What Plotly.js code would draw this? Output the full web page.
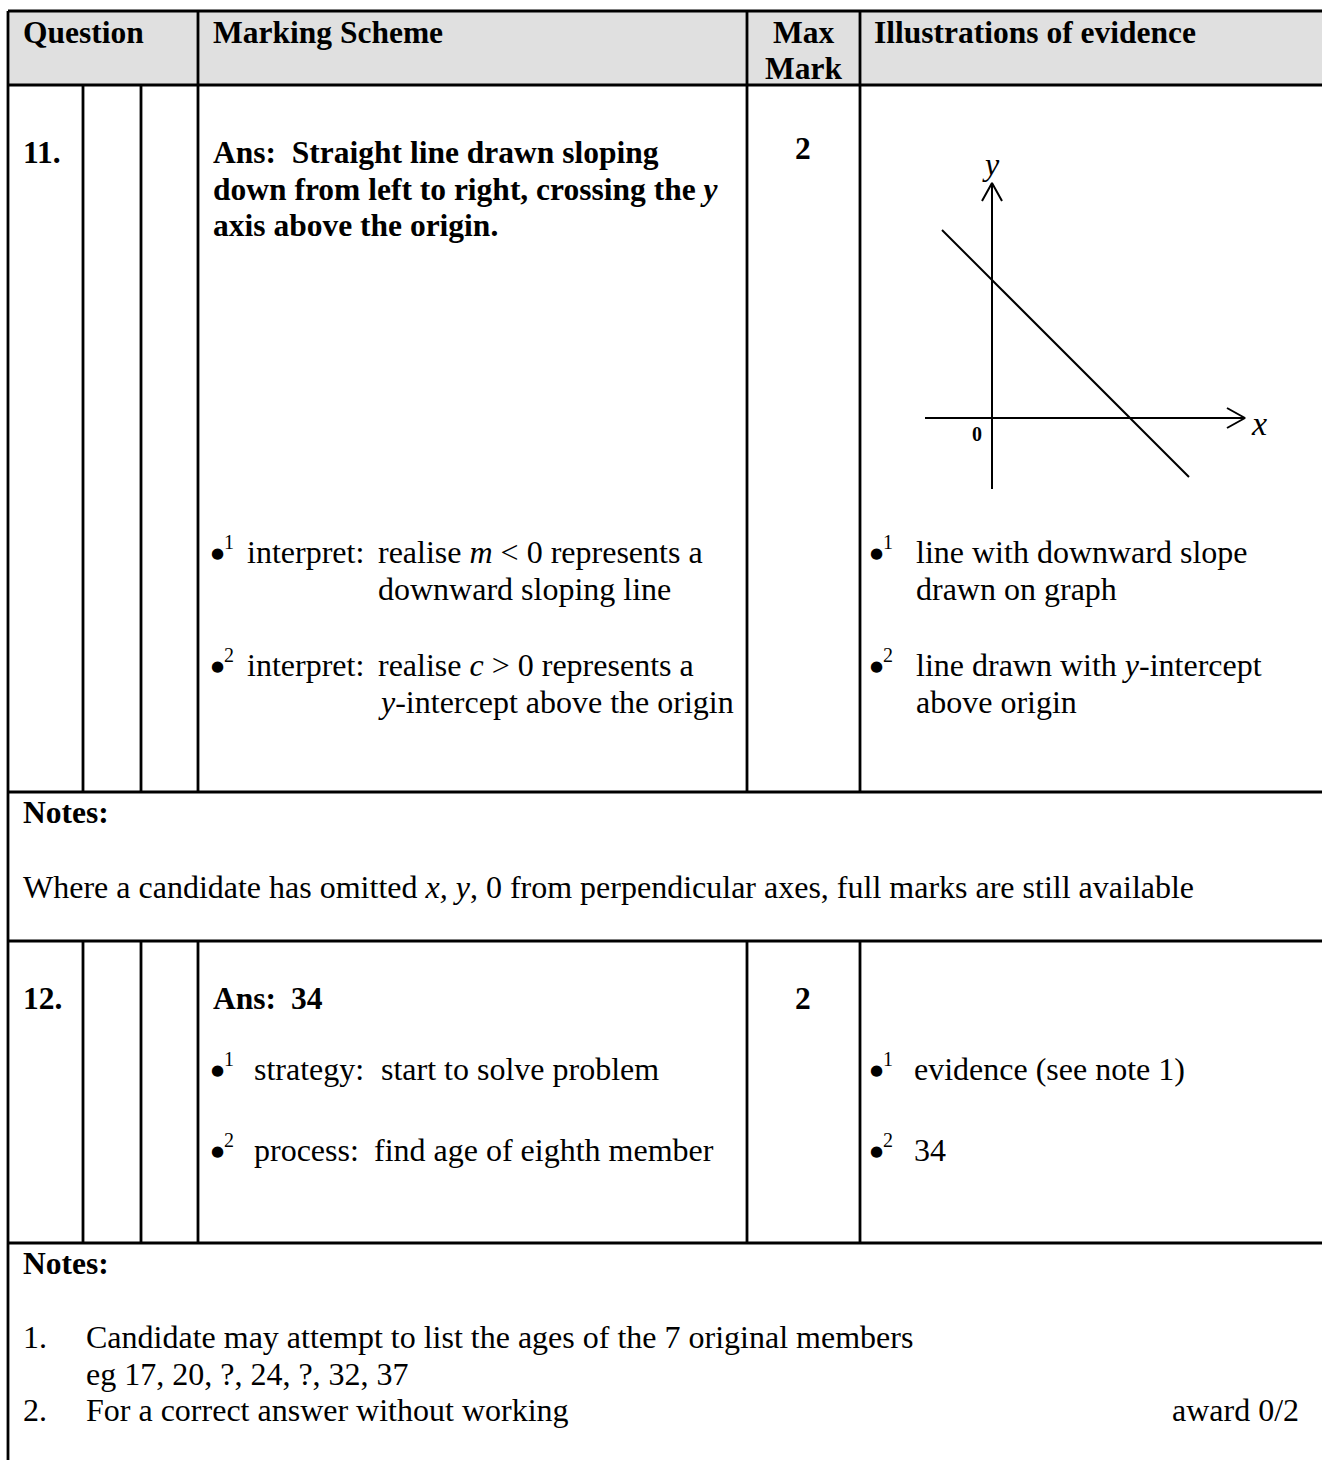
<!DOCTYPE html>
<html>
<head>
<meta charset="utf-8">
<script src="https://cdn.plot.ly/plotly-3.0.1.min.js"></script>
<style>
  html, body { margin: 0; padding: 0; background: #ffffff; }
  #chart { width: 1322px; height: 1460px; }
</style>
</head>
<body>
<div id="chart"></div>
<script>
// ---------------- DATA ----------------
const headerLabels = ["Question", "Marking Scheme", "Max", "Mark", "Illustrations of evidence"];
const questionNumbers = ["11.", "12."];
const maxMarks = ["2", "2"];
const q11Answer = ["Ans:  Straight line drawn sloping", "down from left to right, crossing the <i>y</i>", "axis above the origin."];
const q11Steps = ["interpret:", "interpret:"];
const q11Scheme = [["realise <i>m</i> &lt; 0 represents a", "downward sloping line"],
                   ["realise <i>c</i> &gt; 0 represents a", "<i>y</i>-intercept above the origin"]];
const q11Evidence = [["line with downward slope", "drawn on graph"],
                     ["line drawn with <i>y</i>-intercept", "above origin"]];
const q11Note = "Where a candidate has omitted <i>x, y</i>, 0 from perpendicular axes, full marks are still available";
const q12Answer = ["Ans:", "34"];
const q12Steps = ["strategy:", "process:"];
const q12Scheme = ["start to solve problem", "find age of eighth member"];
const q12Evidence = ["evidence (see note 1)", "34"];
const q12Notes = [["1.", "Candidate may attempt to list the ages of the 7 original members"],
                  ["", "eg 17, 20, ?, 24, ?, 32, 37"],
                  ["2.", "For a correct answer without working"]];
const q12Award = "award 0/2";
const notesLabel = "Notes:";
const bulletMarks = ["1", "2"];

// sketch graph: straight line y = c - x with c > 0
const graphLineX = [-1.0, 3.94];
const graphLineY = [3.76, -1.18];
const yAxisSpan = [-1.42, 4.70];
const xAxisSpan = [-1.34, 5.06];
const axisLabels = ["x", "y", "0"];

// ---------------- LAYOUT HELPERS ----------------
const W = 1322, H = 1460;
const PX = x => x / W;
const PY = y => 1 - y / H;
const FONT = "Liberation Serif, Times New Roman, Times, serif";
const FS = 32, FSB = 31.5;

const shapes = [];
const LW = 2.8;
function hline(y, x0, x1) {
  shapes.push({type: "line", xref: "paper", yref: "paper", x0: PX(x0), x1: PX(x1), y0: PY(y), y1: PY(y),
               line: {color: "#000", width: LW}});
}
function vline(x, y0, y1) {
  shapes.push({type: "line", xref: "paper", yref: "paper", x0: PX(x), x1: PX(x), y0: PY(y0), y1: PY(y1),
               line: {color: "#000", width: LW}});
}
// header fill
shapes.push({type: "rect", xref: "paper", yref: "paper", x0: PX(8), x1: PX(1322), y0: PY(85), y1: PY(11),
             fillcolor: "#e0e0e0", line: {width: 0}, layer: "below"});
[11, 85, 792, 941, 1243].forEach(y => hline(y, 8, 1322));
vline(8, 11, 1460);
[[11, 792], [941, 1243]].forEach(s => [198, 747, 860].forEach(x => vline(x, s[0], s[1])));
[[85, 792], [941, 1243]].forEach(s => [83, 141].forEach(x => vline(x, s[0], s[1])));

const annotations = [];
function T(x, y, text, anchor, size, family) {
  annotations.push({xref: "paper", yref: "paper", x: PX(x), y: PY(y), text: text, showarrow: false,
                    xanchor: anchor || "left", yanchor: "middle", borderpad: 0,
                    font: {family: family || FONT, size: size || FS, color: "#000"}});
}
const TB = (x, y, s, anchor) => T(x, y, "<b>" + s + "</b>", anchor, FSB);
function bulletMark(x, y, n) {
  T(x - 1, y + 1, "●", "left", 15, "DejaVu Sans");
  T(x + 12, y - 10, n, "left", 20);
}

// header
TB(22, 32, headerLabels[0]);
TB(212, 32, headerLabels[1]);
TB(803, 32, headerLabels[2], "center");
TB(803, 68, headerLabels[3], "center");
TB(873, 32, headerLabels[4]);

// question 11
TB(22, 152, questionNumbers[0]);
q11Answer.forEach((s, i) => TB(212, 152 + 37 * i, s));
TB(803, 148, maxMarks[0], "center");
[552, 665].forEach((y, i) => {
  bulletMark(211, y, bulletMarks[i]);
  T(246, y, q11Steps[i]);
  T(377, y, q11Scheme[i][0]);
  T(377, y + 37, q11Scheme[i][1]);
  bulletMark(870, y, bulletMarks[i]);
  T(915, y, q11Evidence[i][0]);
  T(915, y + 37, q11Evidence[i][1]);
});
TB(22, 813, notesLabel);
T(22, 887, q11Note);

// question 12
TB(22, 998, questionNumbers[1]);
TB(212, 998, q12Answer[0]);
TB(290, 998, q12Answer[1]);
TB(803, 998, maxMarks[1], "center");
[1069, 1150].forEach((y, i) => {
  bulletMark(211, y, bulletMarks[i]);
  T(253, y, q12Steps[i]);
  T(i === 0 ? 380 : 373, y, q12Scheme[i]);
  bulletMark(870, y, bulletMarks[i]);
  T(913, y, q12Evidence[i]);
});
TB(22, 1263, notesLabel);
q12Notes.forEach((r, i) => {
  const y = 1337 + 36.5 * i;
  if (r[0]) T(22, y, r[0]);
  T(85, y, r[1]);
});
T(1300, 1410, q12Award, "right");

// graph labels (data coordinates of the sketch axes)
annotations.push({xref: "x", yref: "y", x: 5.34, y: -0.1, text: "<i>" + axisLabels[0] + "</i>", showarrow: false,
                  font: {family: FONT, size: 34, color: "#000"}});
annotations.push({xref: "x", yref: "y", x: -0.02, y: 5.08, text: "<i>" + axisLabels[1] + "</i>", showarrow: false,
                  font: {family: FONT, size: 32, color: "#000"}});
annotations.push({xref: "x", yref: "y", x: -0.3, y: -0.31, text: "<b>" + axisLabels[2] + "</b>", showarrow: false,
                  font: {family: FONT, size: 20, color: "#000"}});

// ---------------- TRACES ----------------
const lineStyle = {color: "#000", width: 2};
const headLen = 0.36, headHalf = 0.2;
const traces = [
  {x: graphLineX, y: graphLineY, mode: "lines", line: lineStyle, hoverinfo: "skip"},
  {x: [0, 0], y: yAxisSpan, mode: "lines", line: lineStyle, hoverinfo: "skip"},
  {x: xAxisSpan, y: [0, 0], mode: "lines", line: lineStyle, hoverinfo: "skip"},
  {x: [-headHalf, 0, headHalf], y: [yAxisSpan[1] - headLen, yAxisSpan[1], yAxisSpan[1] - headLen],
   mode: "lines", line: lineStyle, hoverinfo: "skip"},
  {x: [xAxisSpan[1] - headLen, xAxisSpan[1], xAxisSpan[1] - headLen], y: [headHalf, 0, -headHalf],
   mode: "lines", line: lineStyle, hoverinfo: "skip"}
];

const layout = {
  width: W, height: H,
  margin: {l: 0, r: 0, t: 0, b: 0, pad: 0},
  paper_bgcolor: "#ffffff", plot_bgcolor: "rgba(0,0,0,0)",
  showlegend: false,
  xaxis: {domain: [PX(892), PX(1292)], range: [-2, 6], visible: false, fixedrange: true},
  yaxis: {domain: [PY(518), PY(118)], range: [-2, 6], visible: false, fixedrange: true},
  shapes: shapes,
  annotations: annotations,
  hovermode: false
};

Plotly.newPlot("chart", traces, layout, {displayModeBar: false, staticPlot: true});
</script>
</body>
</html>
